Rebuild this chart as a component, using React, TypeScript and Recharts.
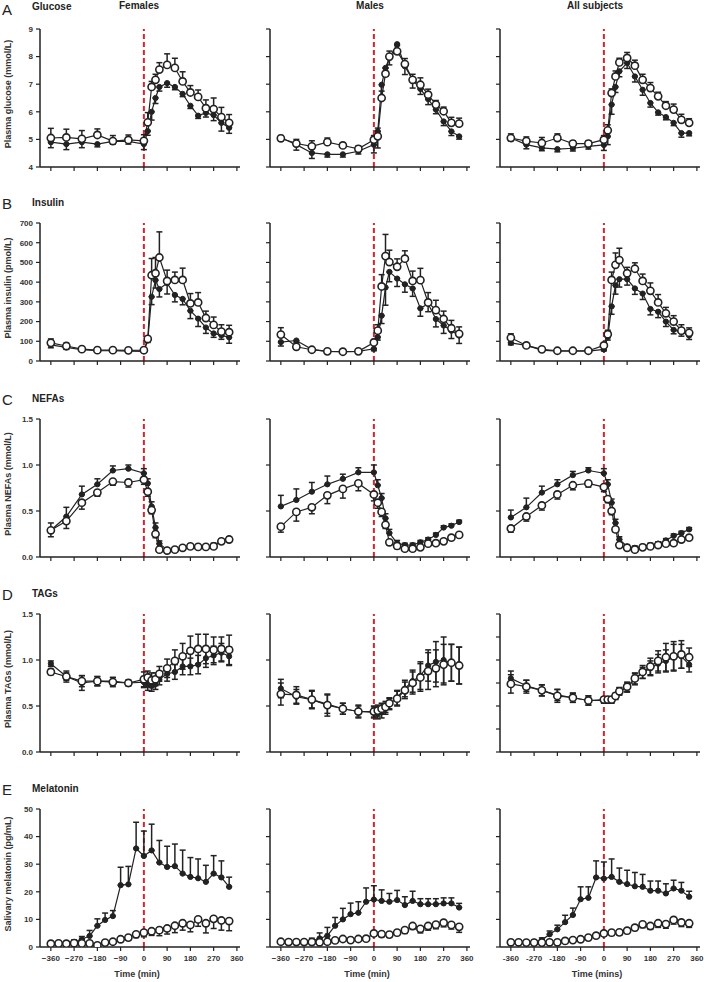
import { LineChart, Line, XAxis, YAxis, ErrorBar, ReferenceLine } from 'recharts';

// time grids (min)
const TIMES = [-360, -300, -240, -180, -120, -60, 0, 15, 30, 45, 60, 90, 120, 150, 180, 210, 240, 270, 300, 330];
const MEL_TIMES = [-360, -330, -300, -270, -240, -210, -180, -150, -120, -90, -60, -30, 0, 30, 60, 90, 120, 150, 180, 210, 240, 270, 300, 330];
const X_TICKS = [-360, -270, -180, -90, 0, 90, 180, 270, 360];

const COLUMNS = ['Females', 'Males', 'All subjects'];

// --- Glucose (mmol/L)
const gluFemOpen = [5.05, 5.07, 5.02, 5.16, 4.94, 4.98, 4.95, 5.62, 6.9, 7.16, 7.53, 7.7, 7.59, 7.1, 6.7, 6.54, 6.13, 6.1, 5.81, 5.6];
const gluFemOpenErr = [0.35, 0.3, 0.3, 0.22, 0.2, 0.18, 0.22, 0.35, 0.2, 0.2, 0.25, 0.4, 0.35, 0.35, 0.25, 0.25, 0.3, 0.4, 0.35, 0.3];
const gluFemFilled = [4.9, 4.83, 4.9, 4.83, 4.93, 4.93, 4.83, 5.3, 6.0, 6.5, 6.9, 7.04, 6.9, 6.65, 6.22, 5.86, 5.96, 5.88, 5.6, 5.42];
const gluFemFilledErr = [0.2, 0.2, 0.2, 0.1, 0.1, 0.1, 0.2, 0.15, 0.3, 0.2, 0.15, 0.15, 0.1, 0.1, 0.1, 0.1, 0.15, 0.2, 0.3, 0.2];
const gluMaleOpen = [5.04, 4.85, 4.75, 4.9, 4.78, 4.66, 4.99, 5.11, 6.5, 7.38, 8.0, 8.19, 7.73, 7.16, 6.98, 6.62, 6.26, 6.02, 5.6, 5.57];
const gluMaleOpenErr = [0.1, 0.15, 0.2, 0.15, 0.1, 0.1, 0.15, 0.3, 0.25, 0.2, 0.2, 0.2, 0.2, 0.2, 0.25, 0.2, 0.15, 0.15, 0.2, 0.2];
const gluMaleFilled = [5.06, 4.81, 4.51, 4.46, 4.46, 4.57, 4.81, 5.29, 6.98, 7.59, 7.95, 8.45, 7.65, 7.16, 6.83, 6.46, 6.08, 5.65, 5.29, 5.11];
const gluMaleFilledErr = [0.1, 0.2, 0.2, 0.1, 0.1, 0.1, 0.3, 0.6, 0.4, 0.3, 0.25, 0.2, 0.3, 0.3, 0.2, 0.2, 0.15, 0.15, 0.15, 0.1];
const gluAllOpen = [5.05, 4.94, 4.87, 5.05, 4.85, 4.85, 4.99, 5.33, 6.68, 7.28, 7.79, 7.95, 7.67, 7.16, 6.86, 6.56, 6.22, 6.08, 5.71, 5.6];
const gluAllOpenErr = [0.15, 0.15, 0.2, 0.15, 0.1, 0.1, 0.15, 0.2, 0.15, 0.2, 0.15, 0.2, 0.2, 0.2, 0.2, 0.15, 0.15, 0.2, 0.2, 0.15];
const gluAllFilled = [5.05, 4.81, 4.69, 4.65, 4.68, 4.75, 4.8, 5.11, 6.26, 6.9, 7.47, 7.77, 7.28, 6.8, 6.32, 5.98, 5.81, 5.6, 5.23, 5.23];
const gluAllFilledErr = [0.1, 0.15, 0.1, 0.1, 0.1, 0.1, 0.2, 0.3, 0.35, 0.2, 0.2, 0.2, 0.2, 0.2, 0.15, 0.1, 0.1, 0.1, 0.15, 0.1];

// --- Insulin (pmol/L)
const insFemOpen = [92, 76, 60, 55, 55, 54, 55, 112, 435, 445, 525, 406, 411, 411, 292, 297, 218, 183, 149, 146];
const insFemOpenErr = [20, 15, 8, 5, 5, 5, 8, 10, 85, 80, 130, 55, 40, 60, 50, 50, 35, 40, 35, 35];
const insFemFilled = [82, 69, 57, 52, 52, 50, 49, 104, 326, 410, 365, 395, 335, 315, 255, 215, 170, 140, 130, 120];
const insFemFilledErr = [15, 10, 5, 5, 5, 5, 5, 10, 40, 40, 40, 55, 35, 30, 40, 40, 30, 20, 20, 30];
const insMaleOpen = [134, 72, 57, 49, 47, 49, 94, 154, 378, 532, 502, 478, 519, 406, 410, 297, 258, 213, 166, 138];
const insMaleOpenErr = [35, 15, 8, 5, 5, 5, 15, 30, 60, 110, 60, 40, 40, 50, 60, 50, 50, 40, 40, 35];
const insMaleFilled = [96, 104, 59, 49, 47, 49, 62, 121, 230, 373, 452, 418, 389, 368, 267, 290, 213, 180, 154, 129];
const insMaleFilledErr = [20, 10, 5, 5, 5, 5, 10, 15, 40, 90, 50, 40, 40, 40, 40, 40, 40, 40, 40, 40];
const insAllOpen = [118, 79, 59, 52, 52, 52, 79, 136, 411, 488, 512, 445, 468, 406, 356, 297, 242, 200, 154, 143];
const insAllOpenErr = [20, 10, 5, 5, 5, 5, 10, 20, 40, 60, 60, 30, 30, 35, 40, 40, 30, 30, 30, 25];
const insAllFilled = [92, 79, 55, 50, 50, 50, 59, 121, 277, 384, 415, 415, 368, 342, 264, 250, 200, 158, 146, 129];
const insAllFilledErr = [10, 8, 5, 5, 5, 5, 8, 15, 40, 45, 40, 30, 30, 30, 30, 30, 25, 20, 20, 20];

// --- NEFAs (mmol/L)
const nefFemOpen = [0.29, 0.39, 0.59, 0.7, 0.82, 0.81, 0.84, 0.71, 0.51, 0.25, 0.08, 0.07, 0.08, 0.1, 0.115, 0.11, 0.11, 0.115, 0.17, 0.19];
const nefFemOpenErr = [0.07, 0.08, 0.07, 0.04, 0.04, 0.05, 0.05, 0.05, 0.04, 0.04, 0.02, 0.02, 0.02, 0.02, 0.02, 0.01, 0.01, 0.01, 0.02, 0.02];
const nefFemFilled = [0.29, 0.44, 0.68, 0.79, 0.94, 0.96, 0.91, 0.8, 0.55, 0.32, 0.145, 0.08, 0.08, 0.1, 0.115, 0.115, 0.115, 0.13, 0.17, 0.2];
const nefFemFilledErr = [0.08, 0.1, 0.09, 0.06, 0.05, 0.04, 0.05, 0.05, 0.05, 0.05, 0.03, 0.02, 0.02, 0.02, 0.02, 0.02, 0.02, 0.02, 0.02, 0.02];
const nefMaleOpen = [0.33, 0.49, 0.54, 0.67, 0.74, 0.8, 0.68, 0.59, 0.49, 0.35, 0.16, 0.12, 0.09, 0.09, 0.105, 0.145, 0.15, 0.17, 0.21, 0.24];
const nefMaleOpenErr = [0.06, 0.1, 0.07, 0.09, 0.1, 0.08, 0.07, 0.06, 0.05, 0.04, 0.03, 0.03, 0.02, 0.02, 0.02, 0.02, 0.02, 0.02, 0.02, 0.02];
const nefMaleFilled = [0.55, 0.62, 0.71, 0.79, 0.85, 0.92, 0.92, 0.78, 0.64, 0.42, 0.26, 0.15, 0.13, 0.13, 0.16, 0.19, 0.24, 0.32, 0.34, 0.38];
const nefMaleFilledErr = [0.12, 0.12, 0.1, 0.09, 0.05, 0.05, 0.08, 0.06, 0.05, 0.05, 0.04, 0.03, 0.02, 0.02, 0.02, 0.02, 0.02, 0.02, 0.02, 0.02];
const nefAllOpen = [0.31, 0.44, 0.56, 0.68, 0.78, 0.8, 0.76, 0.63, 0.5, 0.3, 0.13, 0.1, 0.08, 0.105, 0.115, 0.13, 0.145, 0.15, 0.19, 0.21];
const nefAllOpenErr = [0.04, 0.05, 0.05, 0.05, 0.05, 0.04, 0.05, 0.04, 0.04, 0.03, 0.02, 0.02, 0.02, 0.02, 0.02, 0.02, 0.02, 0.02, 0.02, 0.02];
const nefAllFilled = [0.43, 0.54, 0.7, 0.79, 0.89, 0.94, 0.91, 0.79, 0.59, 0.37, 0.19, 0.115, 0.1, 0.115, 0.13, 0.145, 0.18, 0.23, 0.26, 0.3];
const nefAllFilledErr = [0.08, 0.1, 0.07, 0.05, 0.04, 0.03, 0.05, 0.05, 0.04, 0.04, 0.03, 0.02, 0.02, 0.02, 0.02, 0.02, 0.02, 0.02, 0.02, 0.02];

// --- TAGs (mmol/L)
const tagFemOpen = [0.87, 0.82, 0.77, 0.77, 0.76, 0.75, 0.79, 0.81, 0.78, 0.79, 0.85, 0.91, 0.99, 1.04, 1.1, 1.12, 1.12, 1.11, 1.12, 1.11];
const tagFemOpenErr = [0.03, 0.06, 0.06, 0.05, 0.05, 0.03, 0.08, 0.07, 0.08, 0.07, 0.08, 0.1, 0.12, 0.14, 0.16, 0.16, 0.16, 0.14, 0.13, 0.16];
const tagFemFilled = [0.96, 0.82, 0.75, 0.77, 0.77, 0.75, 0.76, 0.73, 0.72, 0.74, 0.79, 0.85, 0.87, 0.93, 0.93, 0.95, 1.02, 1.05, 1.08, 1.04];
const tagFemFilledErr = [0.03, 0.04, 0.08, 0.05, 0.04, 0.03, 0.06, 0.06, 0.06, 0.06, 0.06, 0.08, 0.08, 0.09, 0.09, 0.1, 0.1, 0.1, 0.1, 0.1];
const tagMaleOpen = [0.63, 0.62, 0.57, 0.51, 0.47, 0.44, 0.44, 0.45, 0.47, 0.49, 0.53, 0.58, 0.67, 0.75, 0.81, 0.88, 0.91, 0.95, 0.97, 0.94];
const tagMaleOpenErr = [0.12, 0.09, 0.1, 0.12, 0.06, 0.07, 0.06, 0.06, 0.06, 0.06, 0.06, 0.08, 0.09, 0.12, 0.15, 0.2, 0.2, 0.22, 0.2, 0.2];
const tagMaleFilled = [0.69, 0.6, 0.57, 0.52, 0.47, 0.44, 0.43, 0.42, 0.43, 0.47, 0.52, 0.59, 0.69, 0.77, 0.83, 0.94, 0.98, 1.0, 0.97, 0.94];
const tagMaleFilledErr = [0.1, 0.08, 0.09, 0.1, 0.06, 0.06, 0.06, 0.06, 0.06, 0.06, 0.06, 0.08, 0.09, 0.12, 0.15, 0.17, 0.22, 0.25, 0.2, 0.2];
const tagAllOpen = [0.74, 0.71, 0.67, 0.61, 0.59, 0.56, 0.57, 0.57, 0.57, 0.61, 0.66, 0.71, 0.8, 0.87, 0.93, 0.99, 1.03, 1.04, 1.06, 1.03];
const tagAllOpenErr = [0.1, 0.07, 0.06, 0.07, 0.05, 0.05, 0.03, 0.03, 0.03, 0.03, 0.04, 0.05, 0.06, 0.07, 0.09, 0.11, 0.15, 0.16, 0.15, 0.1];
const tagAllFilled = [0.8, 0.72, 0.67, 0.62, 0.59, 0.56, 0.56, 0.56, 0.56, 0.6, 0.66, 0.7, 0.79, 0.86, 0.91, 0.96, 0.99, 1.03, 1.04, 0.95];
const tagAllFilledErr = [0.08, 0.06, 0.06, 0.06, 0.05, 0.05, 0.03, 0.03, 0.03, 0.03, 0.04, 0.05, 0.06, 0.06, 0.08, 0.1, 0.12, 0.14, 0.13, 0.08];

// --- Melatonin (pg/mL)
const melFemFilled = [1.2, 1.4, 1.3, 1.8, 2.8, 4.0, 7.7, 9.8, 11.2, 22.4, 22.7, 35.7, 33, 35, 30.6, 29, 29.3, 26.6, 25.4, 24.9, 23.6, 26.6, 25.2, 21.8];
const melFemFilledErr = [0.3, 0.5, 0.6, 0.8, 1, 2, 2.5, 2.5, 2, 6.5, 6.5, 9.5, 9, 9.5, 8, 7.5, 8, 8.5, 7, 7, 6, 6.5, 6, 3.5];
const melFemOpen = [1.2, 1.3, 1.2, 1.4, 1.3, 1.3, 0.6, 1.6, 1.9, 2.8, 3.4, 4.6, 5.2, 5.7, 6.1, 6.7, 7.7, 8.6, 8.0, 10, 8.6, 10.2, 9.6, 9.4];
const melFemOpenErr = [0.3, 0.4, 0.4, 0.5, 0.5, 0.5, 0.4, 0.6, 0.6, 0.8, 0.9, 1.2, 1.5, 1.5, 2, 2, 2.5, 2.5, 2.5, 2.5, 3.5, 3.5, 3.5, 3.5];
const melMaleFilled = [1.7, 1.6, 1.7, 1.7, 2.2, 3.1, 4.1, 7.7, 10, 11.9, 12.4, 16.4, 17.2, 16.7, 16.4, 17, 15.2, 16.7, 15.5, 15.5, 15.5, 15.8, 15.8, 14.3];
const melMaleFilledErr = [0.5, 0.5, 0.5, 0.6, 1, 2, 3, 3, 4, 4, 4, 5, 5, 4, 3, 3.5, 3, 3.5, 2, 2, 2, 2, 2, 1.5];
const melMaleOpen = [1.9, 1.8, 1.8, 1.8, 1.8, 1.7, 1.9, 2.4, 2.9, 2.5, 2.9, 3.0, 4.9, 4.7, 4.5, 5.2, 6.1, 7.6, 6.6, 7.6, 8.1, 8.8, 8.0, 7.3];
const melMaleOpenErr = [0.4, 0.4, 0.4, 0.4, 0.4, 0.4, 0.4, 0.5, 0.5, 0.5, 0.5, 0.5, 1, 1, 1, 1, 1.2, 1.2, 1.5, 1.5, 1.5, 1.5, 1.5, 2];
const melAllFilled = [1.7, 1.7, 1.8, 1.9, 2.5, 4.6, 6.4, 9.0, 11.6, 17.3, 17.8, 25.2, 24.8, 25.4, 23.6, 22.8, 22, 21.8, 20.4, 20.4, 19.4, 21.2, 20.4, 18.2];
const melAllFilledErr = [0.3, 0.3, 0.4, 0.5, 0.8, 1.2, 1.5, 2.5, 2.5, 4.5, 4, 6, 6, 6.5, 5, 5, 5, 4.5, 3.5, 3.5, 3.5, 3, 3, 2];
const melAllOpen = [1.7, 1.7, 1.6, 1.6, 1.6, 1.7, 1.7, 2.2, 2.5, 2.8, 3.4, 4.1, 4.9, 5.2, 5.3, 5.9, 7.0, 8.2, 7.6, 8.6, 8.3, 9.8, 8.9, 8.6];
const melAllOpenErr = [0.3, 0.3, 0.3, 0.3, 0.3, 0.3, 0.3, 0.4, 0.4, 0.5, 0.5, 0.6, 1, 1, 1, 1, 1, 1.2, 1.2, 1.5, 1.5, 1.5, 1.5, 1.5];

type Dir = 'up' | 'down' | 'both';
interface SeriesDef { values: number[]; errors: number[]; dir: Dir }
interface PanelDef { filled: SeriesDef; open: SeriesDef; yTicks?: number[] }
interface RowDef {
  letter: string;
  title: string;
  yLabel: string;
  top: number;
  domain: [number, number];
  yTicks: number[];
  fmt: (v: number) => string;
  times: number[];
  panels: PanelDef[];
}

const s = (values: number[], errors: number[], dir: Dir): SeriesDef => ({ values, errors, dir });
const fixed1 = (v: number) => v.toFixed(1);
const int = (v: number) => String(v);

const ROWS: RowDef[] = [
  {
    letter: 'A', title: 'Glucose', yLabel: 'Plasma glucose (mmol/L)', top: 29,
    domain: [4, 9], yTicks: [4, 5, 6, 7, 8, 9], fmt: int, times: TIMES,
    panels: [
      { filled: s(gluFemFilled, gluFemFilledErr, 'down'), open: s(gluFemOpen, gluFemOpenErr, 'up') },
      { filled: s(gluMaleFilled, gluMaleFilledErr, 'down'), open: s(gluMaleOpen, gluMaleOpenErr, 'up') },
      { filled: s(gluAllFilled, gluAllFilledErr, 'down'), open: s(gluAllOpen, gluAllOpenErr, 'up') },
    ],
  },
  {
    letter: 'B', title: 'Insulin', yLabel: 'Plasma insulin (pmol/L)', top: 223,
    domain: [0, 700], yTicks: [0, 100, 200, 300, 400, 500, 600, 700], fmt: int, times: TIMES,
    panels: [
      { filled: s(insFemFilled, insFemFilledErr, 'down'), open: s(insFemOpen, insFemOpenErr, 'up') },
      { filled: s(insMaleFilled, insMaleFilledErr, 'down'), open: s(insMaleOpen, insMaleOpenErr, 'up') },
      { filled: s(insAllFilled, insAllFilledErr, 'down'), open: s(insAllOpen, insAllOpenErr, 'up') },
    ],
  },
  {
    letter: 'C', title: 'NEFAs', yLabel: 'Plasma NEFAs (mmol/L)', top: 419,
    domain: [0, 1.5], yTicks: [0, 0.5, 1, 1.5], fmt: fixed1, times: TIMES,
    panels: [
      { filled: s(nefFemFilled, nefFemFilledErr, 'up'), open: s(nefFemOpen, nefFemOpenErr, 'down') },
      { filled: s(nefMaleFilled, nefMaleFilledErr, 'up'), open: s(nefMaleOpen, nefMaleOpenErr, 'down') },
      { filled: s(nefAllFilled, nefAllFilledErr, 'up'), open: s(nefAllOpen, nefAllOpenErr, 'down') },
    ],
  },
  {
    letter: 'D', title: 'TAGs', yLabel: 'Plasma TAGs (mmol/L)', top: 614,
    domain: [0, 1.5], yTicks: [0, 0.5, 1, 1.5], fmt: fixed1, times: TIMES,
    panels: [
      { filled: s(tagFemFilled, tagFemFilledErr, 'both'), open: s(tagFemOpen, tagFemOpenErr, 'both') },
      { filled: s(tagMaleFilled, tagMaleFilledErr, 'both'), open: s(tagMaleOpen, tagMaleOpenErr, 'both') },
      {
        filled: s(tagAllFilled, tagAllFilledErr, 'both'), open: s(tagAllOpen, tagAllOpenErr, 'both'),
        yTicks: [0, 0.25, 0.5, 0.75, 1, 1.25, 1.5],
      },
    ],
  },
  {
    letter: 'E', title: 'Melatonin', yLabel: 'Salivary melatonin (pg/mL)', top: 809,
    domain: [0, 50], yTicks: [0, 10, 20, 30, 40, 50], fmt: int, times: MEL_TIMES,
    panels: [
      { filled: s(melFemFilled, melFemFilledErr, 'up'), open: s(melFemOpen, melFemOpenErr, 'down') },
      { filled: s(melMaleFilled, melMaleFilledErr, 'up'), open: s(melMaleOpen, melMaleOpenErr, 'down') },
      { filled: s(melAllFilled, melAllFilledErr, 'up'), open: s(melAllOpen, melAllOpenErr, 'down') },
    ],
  },
];

const COL_LEFT = [0, 230, 460];
const COL_CENTER = [139, 370, 595];
const Y_AXIS_W = 40;
const PLOT_W = 200;
const PLOT_H = 138;
const TOP_PAD = 10;
const INK = '#222';
const FONT = '"Liberation Sans", Arial, sans-serif';

const bar = (e: number, dir: Dir) => (dir === 'up' ? [0, e] : dir === 'down' ? [e, 0] : e);

function Panel({ row, col, last }: { row: RowDef; col: number; last: boolean }) {
  const p = row.panels[col];
  const data = row.times.map((t, i) => ({
    t,
    f: p.filled.values[i],
    o: p.open.values[i],
    fe: bar(p.filled.errors[i], p.filled.dir),
    oe: bar(p.open.errors[i], p.open.dir),
  }));
  const xh = last ? 34 : 8;
  const minus = col === 2 ? '-' : '\u2212';
  const tickStyle = { fontSize: 8, fontWeight: 700, fill: '#333', fontFamily: FONT };

  return (
    <div style={{ position: 'absolute', left: COL_LEFT[col], top: row.top - TOP_PAD }}>
      <LineChart
        width={Y_AXIS_W + PLOT_W + 6}
        height={TOP_PAD + PLOT_H + xh}
        data={data}
        margin={{ top: TOP_PAD, right: 6, left: 0, bottom: 0 }}
      >
        <XAxis
          type="number"
          dataKey="t"
          domain={[-402, 372]}
          ticks={X_TICKS}
          interval={0}
          allowDataOverflow
          height={xh}
          axisLine={{ stroke: INK, strokeWidth: 1.5 }}
          tickLine={{ stroke: INK, strokeWidth: 1.2 }}
          tickSize={4}
          tickMargin={4}
          tick={tickStyle}
          tickFormatter={(v: number) => (last ? (v < 0 ? minus + Math.abs(v) : String(v)) : '')}
          label={last ? {
            value: col === 2 ? 'Time (mins)' : 'Time (min)',
            position: 'insideBottom', offset: 4, dx: -3,
            style: { fontSize: 9, fontWeight: 700, fill: '#333', fontFamily: FONT },
          } : undefined}
        />
        <YAxis
          type="number"
          domain={row.domain}
          ticks={p.yTicks ?? row.yTicks}
          interval={0}
          allowDataOverflow
          width={Y_AXIS_W}
          axisLine={{ stroke: INK, strokeWidth: 1.5 }}
          tickLine={{ stroke: INK, strokeWidth: 1.2 }}
          tickSize={4}
          tickMargin={3}
          tick={tickStyle}
          tickFormatter={(v: number) => (col === 0 ? row.fmt(v) : '')}
          label={col === 0 ? {
            value: row.yLabel, angle: -90, position: 'insideLeft', offset: 8, dy: -4,
            style: { textAnchor: 'middle', fontSize: 9, fontWeight: 700, fill: '#333', fontFamily: FONT },
          } : undefined}
        />
        <ReferenceLine x={0} stroke="#d3262c" strokeWidth={2} strokeDasharray="5 3" />
        <Line
          dataKey="f"
          stroke={INK}
          strokeWidth={1.2}
          dot={{ r: 2.6, fill: INK, stroke: INK, strokeWidth: 1 }}
          isAnimationActive={false}
        >
          <ErrorBar dataKey="fe" direction="y" width={3} stroke={INK} strokeWidth={1.5} />
        </Line>
        <Line
          dataKey="o"
          stroke={INK}
          strokeWidth={1.2}
          dot={{ r: 3.6, fill: '#fff', stroke: INK, strokeWidth: 1.6 }}
          isAnimationActive={false}
        >
          <ErrorBar dataKey="oe" direction="y" width={3} stroke={INK} strokeWidth={1.5} />
        </Line>
      </LineChart>
    </div>
  );
}

const abs = (left: number, top: number, extra: object = {}) => ({ position: 'absolute' as const, left, top, ...extra });

export default function App() {
  return (
    <div style={{ position: 'absolute', left: 0, top: 0, width: 708, height: 982, background: '#fff', fontFamily: FONT, color: INK }}>
      {COLUMNS.map((c, i) => (
        <div key={c} style={abs(COL_CENTER[i] - 60, 0, { width: 120, textAlign: 'center', fontSize: 10, fontWeight: 700, lineHeight: '12px' })}>
          {c}
        </div>
      ))}
      {ROWS.map((row, ri) => (
        <div key={row.letter}>
          <div style={abs(2, row.top - 27, { fontSize: 15, lineHeight: '16px' })}>{row.letter}</div>
          <div style={abs(32, row.top - 28 + (ri === 0 ? 0 : 2), { fontSize: 10, fontWeight: 700, lineHeight: '12px' })}>{row.title}</div>
          {[0, 1, 2].map(col => (
            <Panel key={col} row={row} col={col} last={ri === ROWS.length - 1} />
          ))}
        </div>
      ))}
    </div>
  );
}
